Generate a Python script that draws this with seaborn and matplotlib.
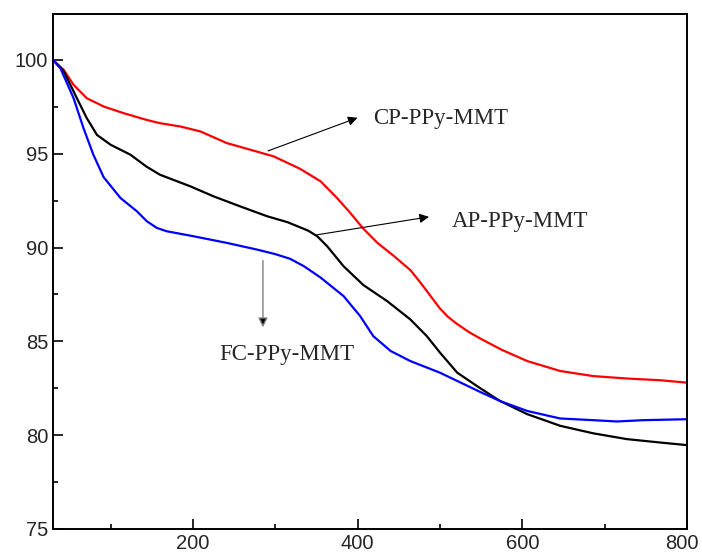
import matplotlib
matplotlib.use("Agg")
import matplotlib.pyplot as plt
import matplotlib.transforms as mtransforms
import pandas as pd
import seaborn as sns
from matplotlib.ticker import MultipleLocator

# TGA curves (temperature, weight %)
CP_X = [30, 43, 55, 71, 91.5, 116, 144, 160, 185, 209, 241, 270, 298, 330, 355,
        375, 391, 407, 424, 444, 464, 476, 488, 500, 510, 520, 535, 549, 575, 606,
        646, 686, 727, 767, 800]
CP_Y = [100, 99.47, 98.67, 97.96, 97.52, 97.16, 96.8, 96.63, 96.45, 96.19, 95.57,
        95.21, 94.86, 94.2, 93.53, 92.64, 91.85, 91.0, 90.25, 89.55, 88.8, 88.15,
        87.45, 86.75, 86.3, 85.95, 85.5, 85.15, 84.55, 83.95, 83.42, 83.15, 83.02,
        82.93, 82.8]

AP_X = [30, 43, 59, 71, 83.5, 100, 124, 144, 160, 197, 225, 257, 290, 315, 340,
        351, 363, 383, 407, 436, 464, 484, 500, 521, 549, 573, 606, 646, 686, 727,
        767, 800]
AP_Y = [100, 99.4, 97.96, 96.9, 96.0, 95.48, 94.95, 94.3, 93.88, 93.26, 92.73,
        92.2, 91.67, 91.35, 90.9, 90.6, 90.07, 89.0, 88.0, 87.14, 86.17, 85.28,
        84.4, 83.33, 82.5, 81.82, 81.12, 80.5, 80.1, 79.79, 79.61, 79.47]

FC_X = [30, 39, 55, 67, 79, 91.5, 112, 132, 144, 156, 168, 201, 241, 278, 300,
        318, 335, 355, 383, 403, 419, 440, 464, 500, 549, 573, 606, 646, 686, 715,
        747, 800]
FC_Y = [100, 99.56, 97.96, 96.37, 94.95, 93.75, 92.64, 91.93, 91.4, 91.05, 90.87,
        90.6, 90.25, 89.89, 89.65, 89.4, 89.0, 88.4, 87.41, 86.35, 85.28, 84.49,
        83.95, 83.33, 82.3, 81.82, 81.29, 80.89, 80.8, 80.73, 80.8, 80.85]

SERIES = ["CP-PPy-MMT", "AP-PPy-MMT", "FC-PPy-MMT"]
PALETTE = {"CP-PPy-MMT": "#ff0000", "AP-PPy-MMT": "#000000", "FC-PPy-MMT": "#0000ff"}

frames = []
for name, xs, ys in zip(SERIES, [CP_X, AP_X, FC_X], [CP_Y, AP_Y, FC_Y]):
    frames.append(pd.DataFrame({"temp": xs, "weight": ys, "sample": name}))
df = pd.concat(frames, ignore_index=True)

sns.set_style("ticks")
plt.rcParams["font.family"] = ["Liberation Sans", "DejaVu Sans"]

fig = plt.figure(figsize=(7.02, 5.57), dpi=100)
ax = fig.add_axes([0.0755, 0.0503, 0.9031, 0.9246])

sns.lineplot(data=df, x="temp", y="weight", hue="sample", palette=PALETTE,
             estimator=None, linewidth=1.6, legend=False, ax=ax)

ax.set_xlim(30, 800)
ax.set_ylim(75, 102.45)
ax.set_xticks([200, 400, 600, 800])
ax.set_yticks([75, 80, 85, 90, 95, 100])
ax.xaxis.set_minor_locator(MultipleLocator(100))
ax.yaxis.set_minor_locator(MultipleLocator(2.5))
ax.tick_params(which="major", direction="in", length=7, width=1.4, labelsize=14.5,
               top=False, right=False)
ax.tick_params(which="minor", direction="in", length=3.6, width=1.4,
               top=False, right=False)
ax.set_xlabel("")
ax.set_ylabel("")
for sp in ax.spines.values():
    sp.set_visible(True)
    sp.set_linewidth(1.4)
    sp.set_color("black")

# keep the last x label inside the canvas
fig.canvas.draw()
last = ax.get_xticklabels()[-1]
last.set_transform(last.get_transform() +
                   mtransforms.ScaledTranslation(-4 / 72, 0, fig.dpi_scale_trans))

serif = ["Liberation Serif", "DejaVu Serif"]
ax.annotate("", xy=(403, 96.97), xytext=(288, 95.1),
            arrowprops=dict(arrowstyle="-|>", color="black", lw=0.8, mutation_scale=14))
ax.text(419, 96.86, "CP-PPy-MMT", family=serif, fontsize=16.5, va="center", ha="left")

ax.annotate("", xy=(490, 91.66), xytext=(345, 90.64),
            arrowprops=dict(arrowstyle="-|>", color="black", lw=0.8, mutation_scale=14))
ax.text(514, 91.38, "AP-PPy-MMT", family=serif, fontsize=16.5, va="center", ha="left")

ax.annotate("", xy=(285, 85.6), xytext=(285, 89.45),
            arrowprops=dict(arrowstyle="-|>", color="#808080", lw=1.0,
                            mutation_scale=14, fc="black"))
ax.text(314, 84.31, "FC-PPy-MMT", family=serif, fontsize=16.5, va="center", ha="center")

fig.savefig("out.png", dpi=100)
